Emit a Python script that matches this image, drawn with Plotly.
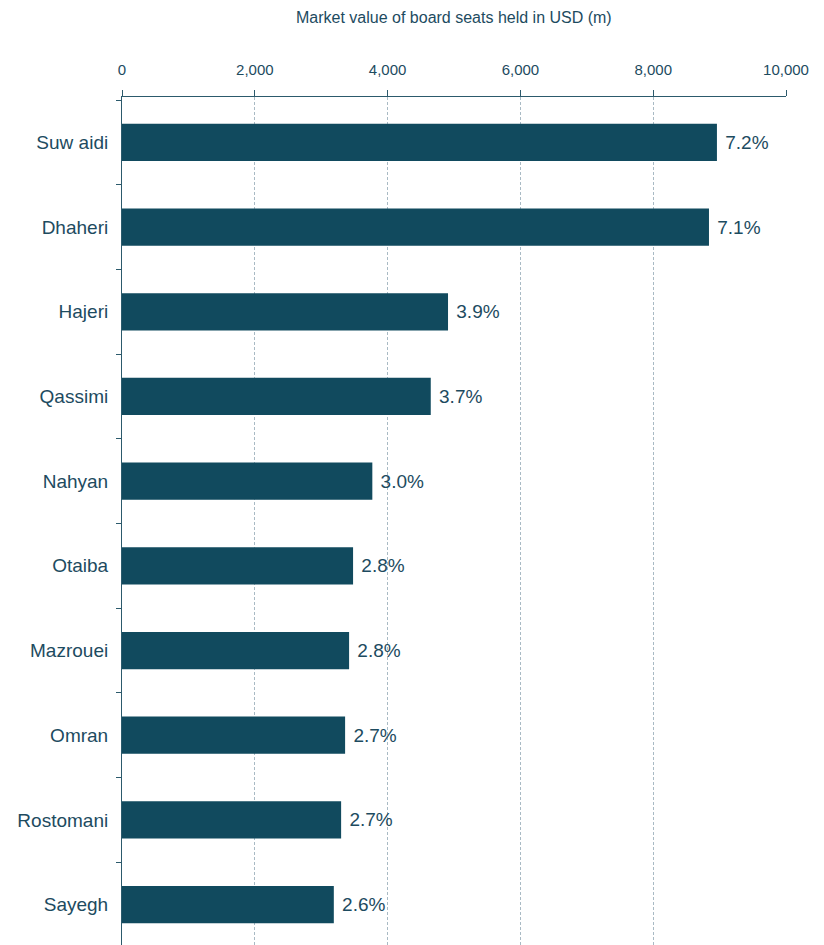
import plotly.graph_objects as go

# Board members and the market value of their seats (USD m), with portfolio share
names = ["Suw aidi", "Dhaheri", "Hajeri", "Qassimi", "Nahyan",
         "Otaiba", "Mazrouei", "Omran", "Rostomani", "Sayegh"]
values = [8960, 8840, 4910, 4650, 3770, 3480, 3420, 3360, 3300, 3190]
shares = ["7.2%", "7.1%", "3.9%", "3.7%", "3.0%",
          "2.8%", "2.8%", "2.7%", "2.7%", "2.6%"]
x_ticks = [0, 2000, 4000, 6000, 8000, 10000]
x_tick_labels = ["0", "2,000", "4,000", "6,000", "8,000", "10,000"]

bar_color = "#114a5e"
text_color = "#1d4b5f"
axis_color = "#2c5a6c"
font_family = "Liberation Sans, Arial, sans-serif"

fig = go.Figure(go.Bar(
    x=values,
    y=names,
    orientation="h",
    marker=dict(color=bar_color, line=dict(width=0)),
    width=0.44,
    text=[" " + s for s in shares],
    textposition="outside",
    textfont=dict(size=19, color=text_color, family=font_family),
    cliponaxis=False,
))

fig.update_layout(
    width=824,
    height=945,
    margin=dict(l=122, r=38, t=97, b=0),
    paper_bgcolor="white",
    plot_bgcolor="white",
    showlegend=False,
    font=dict(family=font_family, color=text_color),
    annotations=[dict(
        text="Market value of board seats held in USD (m)",
        x=0.5, xref="paper",
        y=1 + (97 - 18) / (945 - 97), yref="paper",
        yanchor="middle", showarrow=False,
        font=dict(size=16, color=text_color, family=font_family),
    )],
)

fig.update_xaxes(
    side="top",
    range=[0, 10000],
    tickvals=x_ticks,
    ticktext=x_tick_labels,
    tickfont=dict(size=15, color=text_color),
    ticks="outside",
    ticklen=6,
    tickcolor=axis_color,
    ticklabelstandoff=9,
    showline=True,
    linecolor=axis_color,
    linewidth=1,
    showgrid=True,
    gridcolor="#a9bac4",
    griddash="3px,2px",
    gridwidth=1,
    zeroline=False,
)

fig.update_yaxes(
    categoryorder="array",
    categoryarray=names,
    range=[9.478, -0.537],
    tickfont=dict(size=19, color=text_color),
    ticks="outside",
    tickson="boundaries",
    ticklen=5,
    tickcolor=axis_color,
    ticklabelstandoff=9,
    showline=True,
    linecolor=axis_color,
    linewidth=1,
    showgrid=False,
    zeroline=False,
)

fig.write_html("out.html")
